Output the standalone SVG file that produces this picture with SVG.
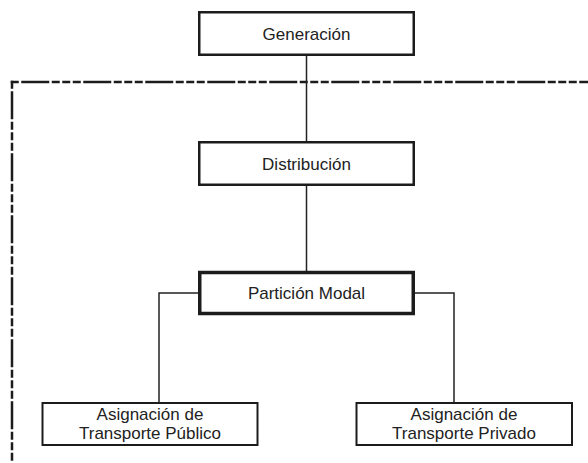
<svg xmlns="http://www.w3.org/2000/svg" width="588" height="463" viewBox="0 0 588 463">
<style>
.box{fill:#fff;stroke:#1c1c1c}
.t{font-family:"Liberation Sans",Arial,sans-serif;font-size:17px;fill:#222;text-anchor:middle}
.c{fill:none;stroke:#222;stroke-width:1.5}
.d{fill:none;stroke:#1c1c1c;stroke-width:2.5;stroke-dasharray:28 2.5 8 2.5 8 2.5 8 2.5;stroke-dashoffset:51.5}
</style>
<rect width="588" height="463" fill="#fff"/>
<g id="boundary">
<line class="d" x1="10.75" y1="82" x2="590" y2="82"/>
<line class="d" x1="12" y1="80.75" x2="12" y2="463"/>
</g>
<g id="connectors">
<path class="c" d="M306.5,56 V141"/>
<path class="c" d="M306.5,186 V271"/>
<path class="c" d="M198,293 H159 V402"/>
<path class="c" d="M415,293 H454 V402"/>
</g>
<g id="generacion">
<rect class="box" x="199.25" y="12.25" width="214.5" height="42.5" stroke-width="2.5"/>
<text class="t" x="306.5" y="39.5">Generación</text>
</g>
<g id="distribucion">
<rect class="box" x="199.25" y="142.25" width="214.5" height="42.5" stroke-width="2.5"/>
<text class="t" x="306.5" y="169.5">Distribución</text>
</g>
<g id="particion">
<rect class="box" x="199.75" y="272.5" width="213.5" height="41" stroke-width="3.5"/>
<text class="t" x="306.5" y="299">Partición Modal</text>
</g>
<g id="publico">
<rect class="box" x="42.5" y="403" width="215" height="42" stroke-width="2"/>
<text class="t" x="150" y="420">Asignación de</text>
<text class="t" x="150" y="439">Transporte Público</text>
</g>
<g id="privado">
<rect class="box" x="356.5" y="403" width="215.5" height="42" stroke-width="2"/>
<text class="t" x="464" y="420">Asignación de</text>
<text class="t" x="464" y="439">Transporte Privado</text>
</g>
</svg>
